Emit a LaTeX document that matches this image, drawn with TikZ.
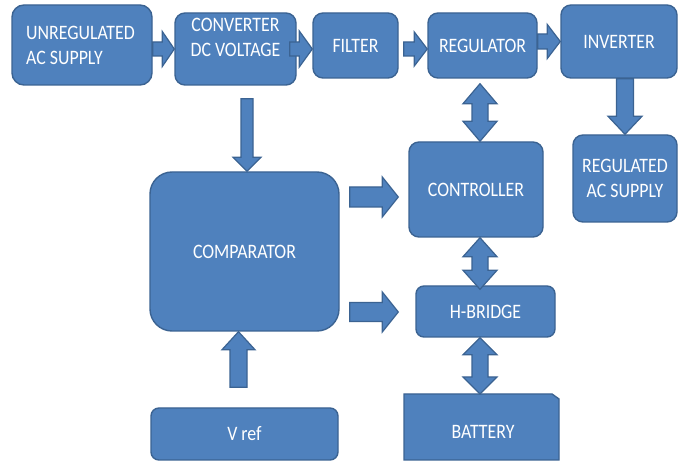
\documentclass[tikz,border=0pt]{standalone}
\usepackage{fontspec}
\setmainfont{Carlito}[FakeStretch=0.87]
\usetikzlibrary{calc}

\definecolor{boxfill}{HTML}{4F81BD}
\definecolor{boxline}{HTML}{3B6392}

\tikzset{
  label text/.style={text=white, inner sep=0pt, font=\fontsize{20.5}{25}\selectfont},
  block/.style={draw=boxline, line width=1.4pt, fill=boxfill, rounded corners=10pt,
    align=center, label text},
  arrowbody/.style={draw=boxline, line width=1.2pt, fill=boxfill, line join=miter},
}

% block arrow: start, end, shaft half-width, head half-width, head length
\newcommand\blockarrow[5]{%
  \path ($(#2)!#5!(#1)$) coordinate (ba-h);
  \draw[arrowbody] ($(#1)!#3!90:(#2)$) -- ($(ba-h)!#3!90:(#2)$) -- ($(ba-h)!#4!90:(#2)$)
    -- (#2) -- ($(ba-h)!#4!-90:(#2)$) -- ($(ba-h)!#3!-90:(#2)$) -- ($(#1)!#3!-90:(#2)$) -- cycle;
}
% two-headed block arrow: end A, end B, shaft half-width, head half-width, head length
\newcommand\dblarrow[5]{%
  \path ($(#1)!#5!(#2)$) coordinate (da-a) ($(#2)!#5!(#1)$) coordinate (da-b);
  \draw[arrowbody] (#1) -- ($(da-a)!#4!90:(#2)$) -- ($(da-a)!#3!90:(#2)$)
    -- ($(da-b)!#3!-90:(#1)$) -- ($(da-b)!#4!-90:(#1)$) -- (#2)
    -- ($(da-b)!#4!90:(#1)$) -- ($(da-b)!#3!90:(#1)$)
    -- ($(da-a)!#3!-90:(#2)$) -- ($(da-a)!#4!-90:(#2)$) -- cycle;
}

\begin{document}
\begin{tikzpicture}[x=1pt, y=-1pt]
\useasboundingbox (0,0) rectangle (678,462);

% blocks
\node[block, minimum width=140pt, minimum height=80pt, rounded corners=12pt] (unreg) at (82,45) {};
\node[label text, align=left, anchor=west] (unregtxt) at (26,45.5) {UNREGULATED\\AC SUPPLY};
\node[block, minimum width=121pt, minimum height=72pt] (conv) at (235.5,49) {};
\node[label text, align=center] (convtxt) at (235.5,37) {CONVERTER\\DC VOLTAGE};
\node[block, minimum width=85pt, minimum height=65pt] (filter) at (355.5,45.5) {FILTER};
\node[block, minimum width=109pt, minimum height=65pt] (reg) at (482.5,45.5) {REGULATOR};
\node[block, minimum width=116pt, minimum height=73pt] (inv) at (619,41.5) {INVERTER};
\node[block, minimum width=104pt, minimum height=87pt] (regsup) at (625,178.5) {REGULATED\\AC SUPPLY};
\node[block, minimum width=134pt, minimum height=95pt] (ctrl) at (476,189.5) {CONTROLLER};
\node[block, minimum width=189pt, minimum height=159pt, rounded corners=22pt] (comp) at (244.5,251.5) {COMPARATOR};
\node[block, minimum width=139pt, minimum height=51pt, rounded corners=8pt] (hb) at (485.5,311.5) {H-BRIDGE};
\node[block, minimum width=187pt, minimum height=52pt, rounded corners=8pt] (vref) at (244.5,434) {V ref};

% battery: rectangle with its top right corner cut off
\node[minimum width=155pt, minimum height=66pt, inner sep=0pt, outer sep=0pt] (bat) at (481.5,427) {};
\draw[draw=boxline, line width=1.4pt, fill=boxfill, line join=miter]
  (bat.south west) -- (bat.north west) -- ($(bat.north east)+(-7,0)$)
  -- ($(bat.north east)+(0,5)$) -- (bat.south east) -- cycle;
\node[label text] (battxt) at (483,432) {BATTERY};

% arrow end points
\coordinate (a1s) at (unreg.east |- conv.west);
\coordinate (a1e) at (conv.west);
\coordinate (a2s) at ($(conv.east)+(-7,0)$);
\coordinate (a2e) at (filter.west |- conv.east);
\coordinate (a3s) at ($(filter.east |- conv.east)+(5,0)$);
\coordinate (a3e) at (reg.west |- conv.east);
\coordinate (a4s) at (reg.east |- inv.west);
\coordinate (a4e) at (inv.west);
\coordinate (a5s) at ($(inv.south)+(6,0)$);
\coordinate (a5e) at (regsup.north -| a5s);
\coordinate (a6s) at ($(conv.south)+(11.5,13)$);
\coordinate (a6e) at (comp.north -| a6s);
\coordinate (a7s) at ($(comp.east)+(10,-54.5)$);
\coordinate (a7e) at ($(ctrl.west |- a7s)+(-10,0)$);
\coordinate (a8s) at ($(comp.east)+(10,60.5)$);
\coordinate (a8e) at ($(hb.west |- a8s)+(-17,0)$);
\coordinate (a9s) at ($(vref.north)+(-6,-20)$);
\coordinate (a9e) at (comp.south -| a9s);
\coordinate (d1s) at ($(reg.south)+(-2.5,5)$);
\coordinate (d1e) at (ctrl.north -| d1s);
\coordinate (d2s) at (ctrl.south -| d1s);
\coordinate (d2e) at ($(hb.north -| d1s)+(0,4)$);
\coordinate (d3s) at (hb.south -| d1s);
\coordinate (d3e) at (bat.north -| d1s);

% connectors
\blockarrow{a1s}{a1e}{7pt}{17.5pt}{12pt}
\blockarrow{a2s}{a2e}{7pt}{18pt}{13pt}
\blockarrow{a3s}{a3e}{7pt}{17pt}{13pt}
\blockarrow{a4s}{a4e}{7.5pt}{17pt}{13pt}
\blockarrow{a5s}{a5e}{8.5pt}{17pt}{18pt}
\blockarrow{a6s}{a6e}{6pt}{14pt}{14pt}
\blockarrow{a7s}{a7e}{10pt}{20pt}{16pt}
\blockarrow{a8s}{a8e}{9.5pt}{20pt}{16pt}
\blockarrow{a9s}{a9e}{8.5pt}{16.5pt}{18pt}
\dblarrow{d1s}{d1e}{8pt}{17pt}{20pt}
\dblarrow{d2s}{d2e}{8pt}{17pt}{19pt}
\dblarrow{d3s}{d3e}{8pt}{17pt}{17pt}
\end{tikzpicture}
\end{document}
